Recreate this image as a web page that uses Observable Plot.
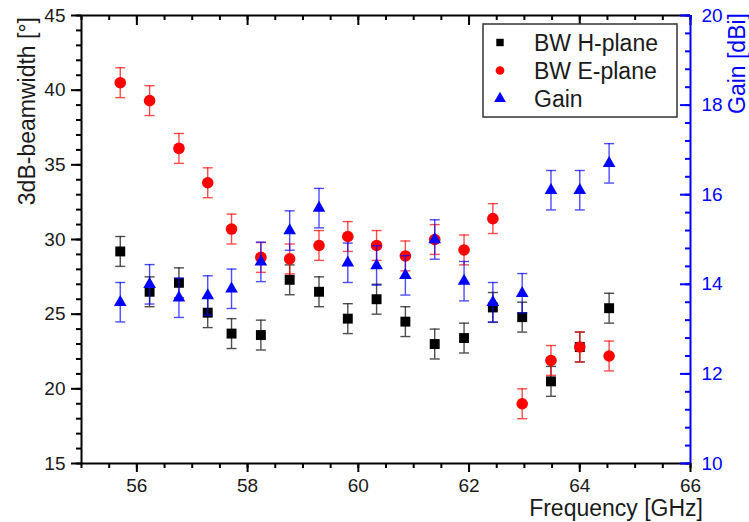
<!DOCTYPE html>
<html><head><meta charset="utf-8">
<script src="https://cdn.jsdelivr.net/npm/d3@7"></script>
<script src="https://cdn.jsdelivr.net/npm/@observablehq/plot@0.6"></script>
<style>
body{margin:0;background:#fff;}
#wrap{position:relative;width:749px;height:522px;}
#wrap svg{overflow:visible;}
</style></head><body><div id="wrap"></div>
<script>
// ---- data ----
const freq = [55.7, 56.23, 56.76, 57.28, 57.71, 58.24, 58.76, 59.29, 59.81, 60.33, 60.85, 61.38, 61.91, 62.43, 62.96, 63.48, 64.0, 64.53];
const bwH  = [29.2, 26.5, 27.1, 25.1, 23.7, 23.6, 27.3, 26.5, 24.7, 26.0, 24.5, 23.0, 23.4, 25.45, 24.8, 20.5, 22.8, 25.4];
const bwE  = [40.5, 39.3, 36.1, 33.8, 30.7, 28.8, 28.7, 29.6, 30.2, 29.6, 28.9, 30.0, 29.3, 31.4, 19.0, 21.9, 22.8, 22.2];
const gain = [13.6, 14.0, 13.7, 13.75, 13.9, 14.5, 15.2, 15.7, 14.48, 14.42, 14.2, 15.0, 14.07, 13.6, 13.8, 16.1, 16.1, 16.7];
const bwHErr = [1,1,1,1,1,1,1,1,1,1,1,1,1,1,1,1,1,1];
const bwEErr = [1,1,1,1,1,1,1,1,1,1,1,1,1,1,1,1,1,1];
const gainErr = [0.44,0.44,0.44,0.44,0.44,0.44,0.44,0.44,0.44,0.44,0.44,0.44,0.44,0.44,0.44,0.44,0.44,0.44];

const seriesNames = ["BW H-plane", "BW E-plane", "Gain"];
const xMajor = [56, 58, 60, 62, 64, 66];
const yMajor = [15, 20, 25, 30, 35, 40, 45];
const gMajor = [10, 12, 14, 16, 18, 20];
const xDomain = [55, 66], yDomain = [15, 45], gDomain = [10, 20];
const xMinor = d3.range(55, 66.01, 0.5);
const yMinor = d3.range(15, 45.01, 1);
const gMinor = d3.range(10, 20.01, 0.4);

// ---- dual axis mapping ----
const g2y = g => yDomain[0] + (g - gDomain[0]) * (yDomain[1] - yDomain[0]) / (gDomain[1] - gDomain[0]);
const y2g = v => gDomain[0] + (v - yDomain[0]) * (gDomain[1] - gDomain[0]) / (yDomain[1] - yDomain[0]);

const rows = freq.map((f, i) => ({
  f, h: bwH[i], e: bwE[i], g: g2y(gain[i]),
  hLo: bwH[i] - bwHErr[i], hHi: bwH[i] + bwHErr[i],
  eLo: bwE[i] - bwEErr[i], eHi: bwE[i] + bwEErr[i],
  gLo: g2y(gain[i] - gainErr[i]), gHi: g2y(gain[i] + gainErr[i])
}));

const BLACK = "#000000", RED = "#ff0000", BLUE = "#0000ff";
const cap = {draw(ctx) { ctx.moveTo(-5, 0); ctx.lineTo(5, 0); }};

function errMarks(lo, hi, color, op) {
  const s = {stroke: color, strokeWidth: 1.4, strokeOpacity: op};
  return [
    Plot.ruleX(rows, {x: "f", y1: lo, y2: hi, ...s}),
    Plot.dot(rows, {x: "f", y: lo, symbol: cap, r: 3, fill: "none", ...s}),
    Plot.dot(rows, {x: "f", y: hi, symbol: cap, r: 3, fill: "none", ...s})
  ];
}

// tick helpers built from rules with pixel insets (length in px)
const id = d => d;
const leftTicks  = (vals, len, color) => Plot.ruleY(vals, {y: id, x1: xDomain[0], x2: xDomain[0], insetLeft: -len, stroke: color, strokeWidth: 2});
const rightTicksIn = (vals, len, color) => Plot.ruleY(vals, {y: id, x1: xDomain[1], x2: xDomain[1], insetLeft: -len, stroke: color, strokeWidth: 2});
const bottomTicks = (vals, len) => Plot.ruleX(vals, {x: id, y1: yDomain[0], y2: yDomain[0], insetBottom: -len, stroke: BLACK, strokeWidth: 2});
const topTicksIn  = (vals, len) => Plot.ruleX(vals, {x: id, y1: yDomain[1], y2: yDomain[1], insetBottom: -len, stroke: BLACK, strokeWidth: 2});

const chart = Plot.plot({
  width: 749, height: 522,
  marginLeft: 81, marginRight: 59, marginTop: 15, marginBottom: 59,
  style: {fontFamily: "'Liberation Sans', Arial, sans-serif", fontSize: "19px", color: "#1a1a1a", background: "#fff"},
  x: {domain: xDomain},
  y: {domain: yDomain},
  marks: [
    // data
    ...errMarks("hLo", "hHi", "#222", 0.8),
    Plot.dot(rows, {x: "f", y: "h", symbol: "square", r: 5.6, fill: BLACK, stroke: "none"}),
    ...errMarks("eLo", "eHi", RED, 0.7),
    Plot.dot(rows, {x: "f", y: "e", symbol: "circle", r: 5.8, fill: RED, stroke: "none"}),
    ...errMarks("gLo", "gHi", BLUE, 0.7),
    Plot.dot(rows, {x: "f", y: "g", symbol: "triangle", r: 4.7, fill: BLUE, stroke: "none"}),
    // frame lines
    Plot.ruleX([xDomain[0]], {stroke: BLACK, strokeWidth: 2}),
    Plot.ruleY([yDomain[0]], {stroke: BLACK, strokeWidth: 2}),
    Plot.ruleY([yDomain[1]], {stroke: BLACK, strokeWidth: 2}),
    // left axis: outward ticks + labels
    leftTicks(yMajor, 10, BLACK),
    leftTicks(yMinor, 5, BLACK),
    Plot.axisY({ticks: yMajor, tickSize: 0, tickPadding: 16, fill: "#1a1a1a", fontSize: 19, label: null}),
    // bottom axis: outward ticks + labels
    bottomTicks(xMajor, 9),
    bottomTicks(xMinor, 5),
    Plot.axisX({ticks: xMajor, tickSize: 0, tickPadding: 15, fill: "#1a1a1a", fontSize: 19, label: null}),
    // top axis: inward ticks
    topTicksIn(xMajor, 10),
    topTicksIn(xMinor, 5),
    // right (gain) axis: inward ticks + labels
    Plot.ruleX([xDomain[1]], {stroke: BLUE, strokeWidth: 2}),
    rightTicksIn(gMajor.map(g2y), 10, BLUE),
    rightTicksIn(gMinor.map(g2y), 5, BLUE),
    Plot.axisY({anchor: "right", ticks: gMajor.map(g2y), tickSize: 0, tickPadding: 11, fill: BLUE, fontSize: 19, label: null,
      tickFormat: v => String(Math.round(y2g(v)))})
  ]
});
document.getElementById("wrap").appendChild(chart);

// ---- titles & legend ----
const svg = d3.select(chart);
const FF = "'Liberation Sans', Arial, sans-serif";
svg.append("text").attr("transform", "translate(27,17) rotate(-90)")
  .attr("text-anchor", "end").attr("dy", "0.35em")
  .attr("font-family", FF).attr("font-size", 23).attr("fill", "#1a1a1a")
  .text("3dB-beamwidth [°]");
svg.append("text").attr("transform", "translate(737,13) rotate(-90)")
  .attr("text-anchor", "end").attr("dy", "0.35em")
  .attr("font-family", FF).attr("font-size", 23).attr("fill", BLUE)
  .text("Gain [dBi]");
svg.append("text").attr("x", 703).attr("y", 516)
  .attr("text-anchor", "end")
  .attr("font-family", FF).attr("font-size", 23).attr("fill", "#1a1a1a")
  .text("Frequency [GHz]");

const lg = svg.append("g");
lg.append("rect").attr("x", 483).attr("y", 24).attr("width", 194).attr("height", 93)
  .attr("fill", "#fff").attr("stroke", "#333").attr("stroke-width", 1.5);
const legSyms = [d3.symbolSquare, d3.symbolCircle, d3.symbolTriangle];
const legCols = [BLACK, RED, BLUE];
const legSizes = [55, 60, 60];
seriesNames.forEach((name, i) => {
  const cy = 42.5 + i * 28;
  lg.append("path").attr("d", d3.symbol(legSyms[i], legSizes[i])())
    .attr("transform", `translate(500,${cy})`).attr("fill", legCols[i]);
  lg.append("text").attr("x", 534).attr("y", cy).attr("dy", "0.35em")
    .attr("text-anchor", "start")
    .attr("font-family", FF).attr("font-size", 23).attr("fill", "#1a1a1a").text(name);
});
</script></body></html>
